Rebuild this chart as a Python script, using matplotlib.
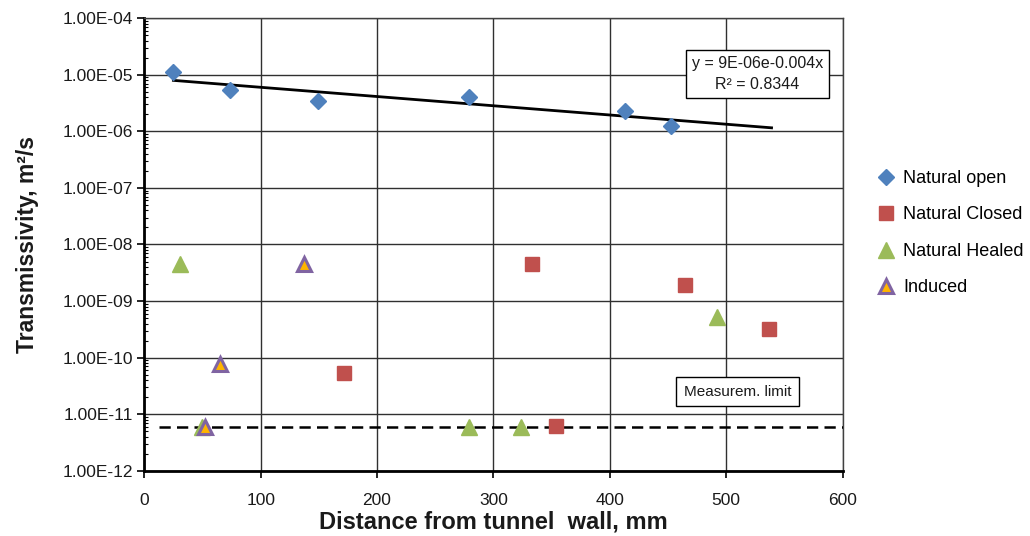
import numpy as np
import matplotlib
matplotlib.use("Agg")
import matplotlib.pyplot as plt
from matplotlib.ticker import FuncFormatter, LogLocator, NullFormatter

plt.rcParams['font.family'] = ['Liberation Sans', 'DejaVu Sans']

# ---- data ----
open_x = [25, 74, 149, 279, 413, 453]
open_y = [1.10e-5, 5.4e-6, 3.4e-6, 4.1e-6, 2.3e-6, 1.27e-6]

closed_x = [172, 333, 465, 537, 354]
closed_y = [5.4e-11, 4.6e-9, 1.92e-9, 3.2e-10, 6.2e-12]

healed_x = [31, 492, 50, 279, 324]
healed_y = [4.6e-9, 5.3e-10, 5.9e-12, 5.9e-12, 5.9e-12]

induced_x = [137, 65, 52]
induced_y = [4.6e-9, 7.8e-11, 5.9e-12]

limit_value = 5.9e-12
limit_x = [13, 600]
trend_x_end = 539

equation_text = "y = 9E-06e-0.004x\nR² = 0.8344"
limit_text = "Measurem. limit"
x_ticks = [0, 100, 200, 300, 400, 500, 600]
series_names = ["Natural open", "Natural Closed", "Natural Healed", "Induced"]

# ---- figure ----
fig = plt.figure(figsize=(10.30, 5.36), dpi=100)
ax = fig.add_axes([0.1401, 0.1218, 0.6779, 0.8441])
ax.set_yscale('log')
ax.set_xlim(0, 600)
ax.set_ylim(1e-12, 1e-4)

ax.grid(True, which='major', color='#303030', lw=1.0, zorder=0)
ax.set_axisbelow(True)

# trendline fitted to natural open data
coef = np.polyfit(open_x, np.log(open_y), 1)
tx = np.linspace(min(open_x), trend_x_end, 200)
ax.plot(tx, np.exp(coef[1]) * np.exp(coef[0] * tx), color='black', lw=2.0, zorder=3)

# measurement limit
ax.plot(limit_x, [limit_value, limit_value], color='black', lw=1.8,
        dashes=(4.5, 2.5), zorder=3)

ax.plot(open_x, open_y, 'D', ms=8, color='#4F81BD', mec='#4F81BD',
        label=series_names[0], zorder=4)
ax.plot(closed_x, closed_y, 's', ms=10.5, color='#C0504D', mec='#C0504D',
        label=series_names[1], zorder=4)
ax.plot(healed_x, healed_y, '^', ms=11, color='#9BBB59', mec='#9BBB59',
        label=series_names[2], zorder=4)
ax.plot(induced_x, induced_y, '^', ms=10, color='#FFB400', mec='#8064A2',
        mew=2.2, label=series_names[3], zorder=5)

# ticks
ax.set_xticks(x_ticks)
ax.yaxis.set_major_locator(LogLocator(base=10, numticks=20))
ax.yaxis.set_minor_locator(LogLocator(base=10, subs=np.arange(2, 10), numticks=20))
ax.yaxis.set_minor_formatter(NullFormatter())
ax.yaxis.set_major_formatter(FuncFormatter(lambda v, p: f"{v:.2E}"))
ax.tick_params(axis='both', which='major', labelsize=12.5, direction='out',
               length=5, width=1.2, color='black', labelcolor='#1a1a1a')
ax.tick_params(axis='x', which='major', pad=11)
ax.tick_params(axis='y', which='major', pad=3)
ax.tick_params(axis='y', which='minor', direction='in', length=3, width=0.8)
ax.tick_params(axis='x', which='minor', bottom=False)

for s in ['left', 'bottom']:
    ax.spines[s].set_linewidth(2.0)
    ax.spines[s].set_color('black')
for s in ['top', 'right']:
    ax.spines[s].set_linewidth(1.0)
    ax.spines[s].set_color('#404040')

ax.set_xlabel("Distance from tunnel  wall, mm", fontsize=17, fontweight='bold',
              color='#1a1a1a', labelpad=2)
ax.set_ylabel("Transmissivity, m²/s", fontsize=16.5, fontweight='bold',
              color='#1a1a1a', labelpad=17)

ax.text(0.878, 0.877, equation_text, transform=ax.transAxes, ha='center',
        va='center', multialignment='center', fontsize=11.5, color='#1a1a1a',
        linespacing=1.5,
        bbox=dict(boxstyle='square,pad=0.35', fc='white', ec='black', lw=1.0),
        zorder=6)
ax.text(0.85, 0.1746, limit_text, transform=ax.transAxes, ha='center',
        va='center', fontsize=11, color='#1a1a1a',
        bbox=dict(boxstyle='square,pad=0.5', fc='white', ec='black', lw=1.0),
        zorder=6)

fig.legend(loc='upper left', bbox_to_anchor=(0.8515, 0.683), frameon=False,
           fontsize=13, handlelength=1.0, handletextpad=0.45, labelspacing=1.08,
           borderpad=0, borderaxespad=0, numpoints=1)

fig.savefig("out.png", dpi=100)
